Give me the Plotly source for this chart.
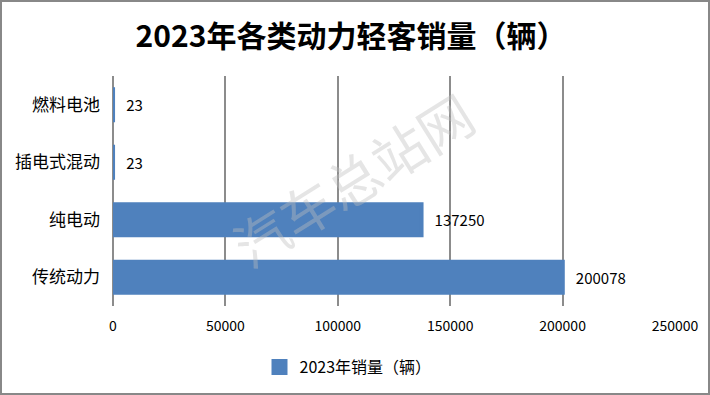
import plotly.graph_objects as go

categories = ["传统动力", "纯电动", "插电式混动", "燃料电池"]
values = [200078, 137250, 23, 23]
series_name = "2023年销量（辆）"
title_text = "2023年各类动力轻客销量（辆）"
tick_vals = [0, 50000, 100000, 150000, 200000, 250000]

IW, IH = 710, 395
W, H = IW, IH
pl, pr, pt, pb = 113, 675, 76, 306          # plot area in image px
L, T = pl, pt
R, B = IW - pr, IH - pb
pw, ph = pr - pl, pb - pt


def px(x):
    return (x - pl) / pw


def py(y):
    return (pb - y) / ph


fig = go.Figure()
fig.add_trace(go.Bar(
    y=categories, x=values, orientation="h", name=series_name,
    marker=dict(color="#4F81BD", line=dict(color="#4F81BD", width=4)),
    text=[str(v) for v in values],
    texttemplate="   %{text}", textposition="outside",
    textfont=dict(size=15, color="#000000"),
    cliponaxis=False,
))

fig.update_layout(
    width=W, height=H,
    margin=dict(l=L, r=R, t=T, b=B, autoexpand=False),
    paper_bgcolor="white", plot_bgcolor="white",
    font=dict(family="Noto Sans CJK SC, sans-serif", size=14, color="#000000"),
    title=dict(text="<b>" + title_text + "</b>", x=351 / W, xref="container", xanchor="center",
               y=1 - 36 / H, yanchor="middle",
               font=dict(size=30, color="#000000", family="Noto Sans CJK SC, sans-serif")),
    bargap=0.46,
    showlegend=True,
    legend=dict(orientation="h", x=px(348), xanchor="center",
                y=py(367), yanchor="middle",
                font=dict(size=16), itemwidth=30),
    xaxis=dict(range=[0, 250000], tickvals=tick_vals,
               ticktext=[str(v) for v in tick_vals], automargin=False,
               showgrid=True, gridcolor="#8C8C8C", gridwidth=2,
               zeroline=True, zerolinecolor="#8C8C8C", zerolinewidth=2,
               showline=False, ticks="", ticklabelstandoff=10,
               tickfont=dict(size=14)),
    yaxis=dict(categoryorder="array", categoryarray=categories, automargin=False,
               showgrid=False, zeroline=False, showline=False, ticks="",
               ticklabelstandoff=12, tickfont=dict(size=17)),
)

fig.add_annotation(text="汽车总站网", x=px(352), y=py(178),
                   xref="paper", yref="paper", showarrow=False, textangle=-32,
                   font=dict(size=54, color="rgba(190,190,190,0.40)",
                             family="Noto Sans CJK SC, sans-serif"))

fig.add_shape(type="rect", xref="paper", yref="paper",
              x0=px(1), x1=px(IW - 1),
              y0=py(IH - 1), y1=py(1),
              line=dict(color="#888888", width=2), layer="above")

fig.write_html("out.html", config={"displayModeBar": False},
               post_script="document.body.style.margin='0';document.body.style.overflow='hidden';")
